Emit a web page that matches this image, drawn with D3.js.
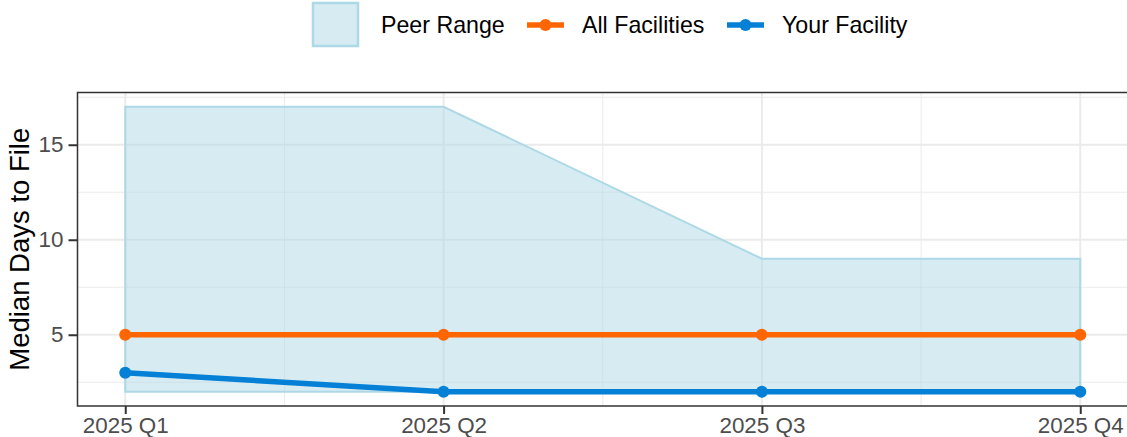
<!DOCTYPE html>
<html>
<head>
<meta charset="utf-8">
<script src="https://cdn.jsdelivr.net/npm/d3@7"></script>
<style>
  body { margin: 0; background: #fff; }
  svg { display: block; font-family: "Liberation Sans", Arial, sans-serif; }
</style>
</head>
<body>
<div id="chart"></div>
<script>
const quarters = ['2025 Q1', '2025 Q2', '2025 Q3', '2025 Q4'];
const peerLow = [2, 2, 2, 2];
const peerHigh = [17, 17, 9, 9];
const allFacilities = [5, 5, 5, 5];
const yourFacility = [3, 2, 2, 2];
const yTicks = [5, 10, 15];
const yMinor = [2.5, 7.5, 12.5, 17.5];

const width = 1127, height = 437,
    margins = { left: 77.5, right: -1, top: 92.5, bottom: 31 };

const svg = d3.select('#chart').append('svg')
    .attr('width', width).attr('height', height);

// ggplot style 5% expansion
const xPad = (quarters.length - 1) * 0.05;
const x = d3.scaleLinear()
    .domain([-xPad, quarters.length - 1 + xPad])
    .range([margins.left, width - margins.right]);

const yMin = d3.min(peerLow), yMax = d3.max(peerHigh), yPad = (yMax - yMin) * 0.05;
const y = d3.scaleLinear()
    .domain([yMin - yPad, yMax + yPad])
    .range([height - margins.bottom, margins.top]);

const pLeft = x.range()[0], pRight = x.range()[1], pTop = y.range()[1], pBottom = y.range()[0];

// grid
const grid = svg.append('g');
grid.selectAll('.ymin').data(yMinor).enter().append('line')
    .attr('x1', pLeft).attr('x2', pRight)
    .attr('y1', d => y(d)).attr('y2', d => y(d))
    .attr('stroke', '#ebebeb').attr('stroke-width', 1);
grid.selectAll('.xmin').data(d3.range(quarters.length - 1)).enter().append('line')
    .attr('x1', d => x(d + 0.5)).attr('x2', d => x(d + 0.5))
    .attr('y1', pTop).attr('y2', pBottom)
    .attr('stroke', '#ebebeb').attr('stroke-width', 1);
grid.selectAll('.ymaj').data(yTicks).enter().append('line')
    .attr('x1', pLeft).attr('x2', pRight)
    .attr('y1', d => y(d)).attr('y2', d => y(d))
    .attr('stroke', '#ebebeb').attr('stroke-width', 2);
grid.selectAll('.xmaj').data(quarters).enter().append('line')
    .attr('x1', (d, i) => x(i)).attr('x2', (d, i) => x(i))
    .attr('y1', pTop).attr('y2', pBottom)
    .attr('stroke', '#ebebeb').attr('stroke-width', 2);

// peer ribbon
const area = d3.area()
    .x((d, i) => x(i))
    .y0((d, i) => y(peerLow[i]))
    .y1(d => y(d));
svg.append('path')
    .datum(peerHigh)
    .attr('d', area)
    .attr('fill', '#add8e6').attr('fill-opacity', 0.5)
    .attr('stroke', '#add8e6').attr('stroke-width', 2);

// lines + points
const line = d3.line().x((d, i) => x(i)).y(d => y(d));
const series = [
    { name: 'All Facilities', values: allFacilities, color: '#ff6600' },
    { name: 'Your Facility', values: yourFacility, color: '#0480d6' }
];
series.forEach(function (s) {
    svg.append('path').datum(s.values).attr('d', line)
        .attr('fill', 'none').attr('stroke', s.color).attr('stroke-width', 5.5);
    svg.selectAll(null).data(s.values).enter().append('circle')
        .attr('cx', (d, i) => x(i)).attr('cy', d => y(d))
        .attr('r', 6).attr('fill', s.color);
});

// panel border
svg.append('rect')
    .attr('x', pLeft).attr('y', pTop)
    .attr('width', pRight - pLeft).attr('height', pBottom - pTop)
    .attr('fill', 'none').attr('stroke', '#333').attr('stroke-width', 1.5);

// axes
const xAxis = svg.append('g')
    .attr('transform', 'translate(0,' + pBottom + ')')
    .call(d3.axisBottom(x).tickValues(d3.range(quarters.length))
        .tickFormat(i => quarters[i]).tickSize(8).tickPadding(3.5));
const yAxis = svg.append('g')
    .attr('transform', 'translate(' + pLeft + ',0)')
    .call(d3.axisLeft(y).tickValues(yTicks).tickSize(9).tickPadding(5));
[xAxis, yAxis].forEach(function (a) {
    a.select('.domain').remove();
    a.selectAll('.tick line').attr('stroke', '#333').attr('stroke-width', 2);
    a.selectAll('.tick text').attr('fill', '#4d4d4d')
        .attr('font-size', 22.4).attr('font-family', '"Liberation Sans", Arial, sans-serif');
});

svg.append('text')
    .attr('transform', 'translate(29,' + ((pTop + pBottom) / 2) + ') rotate(-90)')
    .attr('text-anchor', 'middle')
    .attr('font-size', 27.5).attr('fill', '#000')
    .text('Median Days to File');

// legend
const legend = svg.append('g');
legend.append('rect')
    .attr('x', 313).attr('y', 3).attr('width', 45).attr('height', 43)
    .attr('fill', '#add8e6').attr('fill-opacity', 0.5)
    .attr('stroke', '#add8e6').attr('stroke-width', 2.5);
legend.append('text').attr('x', 381).attr('y', 33)
    .attr('font-size', 23.2).attr('fill', '#000').text('Peer Range');
const keyX = [522, 722];
series.forEach(function (s, i) {
    const kx = keyX[i];
    legend.append('line').attr('x1', kx + 5).attr('x2', kx + 42)
        .attr('y1', 25).attr('y2', 25)
        .attr('stroke', s.color).attr('stroke-width', 5.5);
    legend.append('circle').attr('cx', kx + 23.5).attr('cy', 25).attr('r', 6).attr('fill', s.color);
    legend.append('text').attr('x', kx + 60).attr('y', 33)
        .attr('font-size', 23.2).attr('fill', '#000').text(s.name);
});
</script>
</body>
</html>
